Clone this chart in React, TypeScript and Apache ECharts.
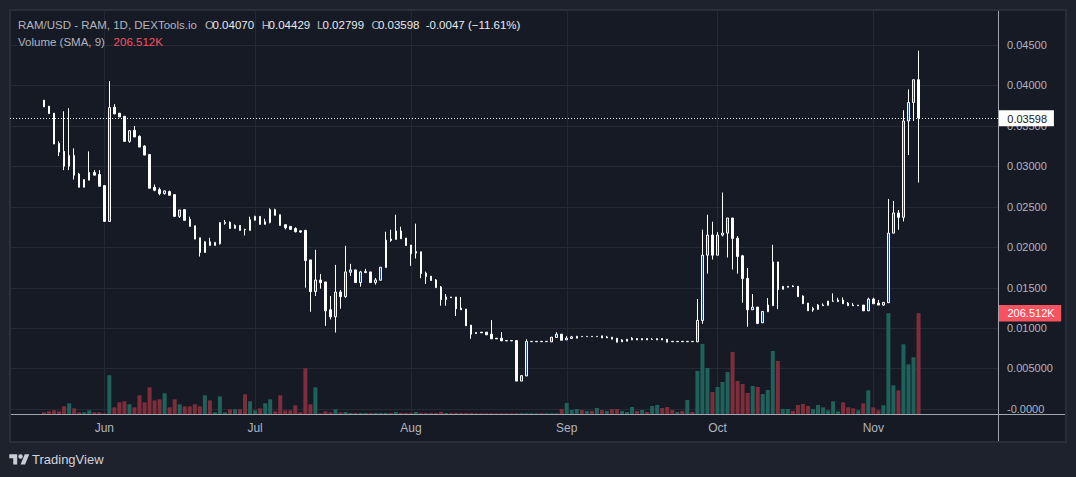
import React, { useEffect, useRef } from "react";
import * as echarts from "echarts";

// ---------- DATA (daily candles, 20 May -> 10 Nov) ----------
const openP = [
  0.03817, 0.03743, 0.03656, 0.03283, 0.03184, 0.03001, 0.03134, 0.02902, 0.02740, 0.02827,
  0.02923, 0.02898, 0.02761, 0.02318, 0.03730, 0.03656, 0.03618, 0.03308, 0.03444, 0.03370,
  0.03250, 0.03146, 0.02740, 0.02711, 0.02662, 0.02687, 0.02649, 0.02380, 0.02463, 0.02343,
  0.02264, 0.02115, 0.01933, 0.02065, 0.02020, 0.02041, 0.02293, 0.02306, 0.02231, 0.02268,
  0.02219, 0.02206, 0.02331, 0.02380, 0.02281, 0.02306, 0.02463, 0.02401, 0.02277, 0.02256,
  0.02231, 0.02202, 0.02206, 0.01842, 0.01449, 0.01593, 0.01569, 0.01225, 0.01138, 0.01445,
  0.01387, 0.01689, 0.01718, 0.01561, 0.01685, 0.01693, 0.01561, 0.01590, 0.01747, 0.02099,
  0.02095, 0.02199, 0.02112, 0.02025, 0.01925, 0.01942, 0.01677, 0.01640, 0.01594, 0.01507,
  0.01350, 0.01383, 0.01383, 0.01246, 0.01234, 0.01035, 0.00944, 0.00948, 0.00948, 0.00923,
  0.00873, 0.00873, 0.00844, 0.00844, 0.00844, 0.00343, 0.00406, 0.00830, 0.00830, 0.00834,
  0.00830, 0.00828, 0.00882, 0.00923, 0.00852, 0.00869, 0.00873, 0.00896, 0.00892, 0.00896,
  0.00892, 0.00902, 0.00877, 0.00886, 0.00873, 0.00828, 0.00836, 0.00852, 0.00869, 0.00852,
  0.00869, 0.00857, 0.00852, 0.00869, 0.00861, 0.00834, 0.00830, 0.00834, 0.00830, 0.00834,
  0.00828, 0.01093, 0.01900, 0.02149, 0.01900, 0.02149, 0.02173, 0.02360, 0.02111, 0.01892,
  0.01614, 0.01225, 0.01258, 0.01064, 0.01200, 0.01275, 0.01817, 0.01478, 0.01503, 0.01519,
  0.01515, 0.01395, 0.01308, 0.01221, 0.01229, 0.01275, 0.01279, 0.01329, 0.01325, 0.01345,
  0.01308, 0.01283, 0.01275, 0.01283, 0.01212, 0.01357, 0.01308, 0.01283, 0.01312, 0.02173,
  0.02422, 0.02368, 0.03560, 0.03788, 0.04070,
];

const closeP = [
  0.03734, 0.03651, 0.03275, 0.03175, 0.03001, 0.03134, 0.02890, 0.02740, 0.02836, 0.02923,
  0.02890, 0.02753, 0.02318, 0.03726, 0.03647, 0.03610, 0.03308, 0.03440, 0.03362, 0.03237,
  0.03138, 0.02728, 0.02703, 0.02662, 0.02695, 0.02641, 0.02380, 0.02459, 0.02331, 0.02256,
  0.02099, 0.01933, 0.02065, 0.02020, 0.02057, 0.02302, 0.02306, 0.02231, 0.02268, 0.02206,
  0.02215, 0.02339, 0.02380, 0.02281, 0.02314, 0.02463, 0.02393, 0.02268, 0.02239, 0.02219,
  0.02190, 0.02186, 0.01834, 0.01449, 0.01593, 0.01560, 0.01212, 0.01138, 0.01444, 0.01387,
  0.01693, 0.01718, 0.01561, 0.01693, 0.01697, 0.01561, 0.01594, 0.01751, 0.02087, 0.02083,
  0.02199, 0.02103, 0.02020, 0.01917, 0.01946, 0.01673, 0.01635, 0.01586, 0.01499, 0.01350,
  0.01383, 0.01374, 0.01238, 0.01225, 0.01027, 0.00923, 0.00931, 0.00940, 0.00915, 0.00865,
  0.00865, 0.00840, 0.00840, 0.00840, 0.00343, 0.00410, 0.00832, 0.00834, 0.00834, 0.00830,
  0.00834, 0.00886, 0.00923, 0.00848, 0.00873, 0.00890, 0.00898, 0.00892, 0.00896, 0.00892,
  0.00896, 0.00877, 0.00888, 0.00861, 0.00824, 0.00852, 0.00861, 0.00873, 0.00852, 0.00869,
  0.00852, 0.00861, 0.00869, 0.00852, 0.00824, 0.00830, 0.00834, 0.00830, 0.00834, 0.00830,
  0.01093, 0.01900, 0.02149, 0.01900, 0.02149, 0.02173, 0.02360, 0.02107, 0.01884, 0.01610,
  0.01225, 0.01258, 0.01055, 0.01204, 0.01283, 0.01817, 0.01474, 0.01515, 0.01515, 0.01511,
  0.01387, 0.01300, 0.01213, 0.01242, 0.01283, 0.01283, 0.01333, 0.01333, 0.01345, 0.01299,
  0.01275, 0.01275, 0.01283, 0.01212, 0.01357, 0.01299, 0.01283, 0.01316, 0.02173, 0.02422,
  0.02368, 0.03560, 0.03788, 0.04070, 0.03598,
];

const highP = [
  0.03817, 0.03743, 0.03656, 0.03308, 0.03680, 0.03718, 0.03221, 0.02919, 0.02836, 0.03184,
  0.02952, 0.02952, 0.02761, 0.04053, 0.03768, 0.03656, 0.03618, 0.03440, 0.03498, 0.03382,
  0.03258, 0.03146, 0.02774, 0.02736, 0.02699, 0.02699, 0.02649, 0.02459, 0.02463, 0.02376,
  0.02264, 0.02115, 0.02074, 0.02115, 0.02065, 0.02310, 0.02335, 0.02318, 0.02281, 0.02268,
  0.02227, 0.02376, 0.02388, 0.02380, 0.02351, 0.02479, 0.02475, 0.02401, 0.02277, 0.02256,
  0.02244, 0.02202, 0.02215, 0.01842, 0.01966, 0.01668, 0.01569, 0.01395, 0.01780, 0.01470,
  0.02016, 0.01793, 0.01718, 0.01706, 0.01731, 0.01693, 0.01619, 0.01751, 0.02190, 0.02215,
  0.02401, 0.02252, 0.02112, 0.02025, 0.02290, 0.01942, 0.01697, 0.01640, 0.01606, 0.01519,
  0.01420, 0.01383, 0.01383, 0.01383, 0.01234, 0.01035, 0.00944, 0.00948, 0.00948, 0.01097,
  0.00873, 0.00948, 0.00844, 0.00844, 0.00844, 0.00410, 0.00861, 0.00834, 0.00834, 0.00834,
  0.00834, 0.00886, 0.00948, 0.00923, 0.00898, 0.00902, 0.00898, 0.00896, 0.00896, 0.00896,
  0.00896, 0.00902, 0.00902, 0.00886, 0.00873, 0.00861, 0.00861, 0.00886, 0.00869, 0.00869,
  0.00869, 0.00873, 0.00869, 0.00869, 0.00861, 0.00834, 0.00834, 0.00834, 0.00834, 0.00834,
  0.01358, 0.02215, 0.02401, 0.02314, 0.02186, 0.02675, 0.02360, 0.02360, 0.02136, 0.01904,
  0.01743, 0.01420, 0.01258, 0.01204, 0.01370, 0.02029, 0.01817, 0.01515, 0.01515, 0.01528,
  0.01515, 0.01403, 0.01308, 0.01262, 0.01295, 0.01304, 0.01333, 0.01428, 0.01374, 0.01378,
  0.01320, 0.01308, 0.01283, 0.01283, 0.01374, 0.01374, 0.01345, 0.01316, 0.02596, 0.02571,
  0.02459, 0.03693, 0.03950, 0.04070, 0.04429,
];

const lowP = [
  0.03734, 0.03651, 0.03275, 0.03126, 0.02952, 0.02952, 0.02836, 0.02740, 0.02740, 0.02827,
  0.02890, 0.02753, 0.02318, 0.02318, 0.03647, 0.03610, 0.03308, 0.03291, 0.03362, 0.03237,
  0.03138, 0.02728, 0.02691, 0.02641, 0.02649, 0.02641, 0.02380, 0.02360, 0.02331, 0.02256,
  0.02099, 0.01883, 0.01933, 0.02020, 0.02020, 0.02032, 0.02277, 0.02231, 0.02231, 0.02206,
  0.02144, 0.02206, 0.02331, 0.02281, 0.02281, 0.02293, 0.02393, 0.02268, 0.02219, 0.02219,
  0.02181, 0.02177, 0.01498, 0.01200, 0.01395, 0.01486, 0.01026, 0.01105, 0.00943, 0.01238,
  0.01374, 0.01644, 0.01561, 0.01511, 0.01677, 0.01561, 0.01536, 0.01590, 0.01747, 0.02066,
  0.02095, 0.02103, 0.02020, 0.01768, 0.01859, 0.01615, 0.01544, 0.01586, 0.01499, 0.01275,
  0.01275, 0.01374, 0.01147, 0.01225, 0.01027, 0.00865, 0.00931, 0.00940, 0.00915, 0.00865,
  0.00865, 0.00840, 0.00840, 0.00840, 0.00343, 0.00343, 0.00406, 0.00830, 0.00830, 0.00830,
  0.00830, 0.00828, 0.00882, 0.00848, 0.00852, 0.00869, 0.00873, 0.00892, 0.00892, 0.00892,
  0.00892, 0.00877, 0.00877, 0.00861, 0.00824, 0.00828, 0.00836, 0.00852, 0.00852, 0.00852,
  0.00852, 0.00857, 0.00852, 0.00852, 0.00824, 0.00830, 0.00830, 0.00830, 0.00830, 0.00830,
  0.00828, 0.01051, 0.01672, 0.01846, 0.01900, 0.02132, 0.01871, 0.01722, 0.01672, 0.01312,
  0.01014, 0.01225, 0.01047, 0.01064, 0.01200, 0.01275, 0.01233, 0.01478, 0.01503, 0.01511,
  0.01387, 0.01300, 0.01213, 0.01200, 0.01229, 0.01275, 0.01279, 0.01329, 0.01325, 0.01299,
  0.01275, 0.01275, 0.01275, 0.01212, 0.01212, 0.01299, 0.01283, 0.01275, 0.01312, 0.02173,
  0.02215, 0.02318, 0.03138, 0.03560, 0.02799,
];

// volume, in thousands
const volumeK = [
  3.4, 5.5, 7.5, 5.5, 15.7, 21.9, 11.6, 3.4, 3.4, 7.5,
  3.4, 3.4, 1.4, 79.3, 13.7, 23.9, 26.0, 19.8, 13.7, 38.3,
  23.9, 54.7, 28.0, 30.1, 42.4, 13.7, 30.1, 19.8, 15.7, 15.7,
  19.8, 15.7, 38.3, 28.0, 3.4, 36.2, 3.4, 9.6, 9.6, 9.6,
  40.3, 26.0, 7.5, 11.6, 21.9, 30.1, 5.5, 38.3, 7.5, 7.5,
  17.8, 3.4, 93.7, 19.8, 54.7, 1.4, 5.5, 3.4, 9.6, 3.4,
  4.1, 2.0, 2.0, 2.0, 2.0, 2.0, 2.0, 2.0, 2.0, 2.0,
  4.1, 2.0, 2.0, 2.0, 4.1, 2.0, 2.0, 2.0, 2.0, 4.1,
  2.0, 2.0, 2.0, 2.0, 2.0, 2.0, 1.6, 1.6, 1.6, 1.6,
  1.6, 1.6, 1.6, 1.6, 1.6, 1.6, 1.6, 1.6, 1.6, 1.6,
  1.6, 1.6, 1.6, 10.3, 22.6, 8.2, 10.3, 8.2, 6.2, 6.2,
  12.3, 8.2, 6.2, 10.3, 10.3, 6.2, 4.1, 14.4, 6.2, 8.2,
  4.1, 16.4, 18.5, 12.3, 14.4, 8.2, 4.1, 6.2, 28.7, 4.1,
  88.2, 143.6, 94.3, 45.1, 55.4, 65.6, 86.1, 127.2, 67.7, 61.5,
  43.1, 57.4, 55.4, 41.0, 49.2, 129.2, 108.7, 10.3, 10.3, 6.2,
  18.5, 20.5, 16.4, 10.3, 18.5, 13.7, 7.5, 26.0, 5.5, 23.9,
  13.7, 11.6, 7.5, 21.9, 48.5, 13.7, 7.5, 17.8, 206.5, 58.8,
  48.5, 142.9, 101.9, 116.2, 206.512,
];

// month starts (day index from 20 May)
const monthTicks = [12, 42, 73, 104, 134, 165];
const monthLabels = ["Jun", "Jul", "Aug", "Sep", "Oct", "Nov"];

const priceTicks = [0, 0.005, 0.01, 0.015, 0.02, 0.025, 0.03, 0.035, 0.04, 0.045];
const priceTickLabels = [
  "-0.0000", "0.005000", "0.01000", "0.01500", "0.02000",
  "0.02500", "0.03000", "0.03500", "0.04000", "0.04500",
];

const SYMBOL_TEXT = "RAM/USD - RAM, 1D, DEXTools.io";
const CHANGE_TEXT = "-0.0047 (\u221211.61%)";
const VOLUME_TITLE = "Volume (SMA, 9)";
const VOLUME_LAST_TEXT = "206.512K";

// ---------- STYLE ----------
const FONT = '"Liberation Sans", Arial, sans-serif';
const OUTER_BG = "#1e222d";
const PANEL_BG = "#161a25";
const BORDER = "#2a2e39";
const GRID_LINE = "#252934";
const AXIS_TEXT = "#b2b5be";
const VALUE_TEXT = "#e8eaef";
const UP_FILL = "#2043b3";
const UP_VOL = "#1e625b";
const DOWN_VOL = "#7e2e3a";
const RED_LABEL = "#f7525f";

const X_MIN = -6.765;
const X_MAX = 189.81;
const Y_MIN = -0.000643;
const Y_MAX = 0.049326;
const VOL_MAX = 827.7;

const TV_LOGO_PATH =
  "M14 22H7V11H0V4h14v18zM28 22h-8l7.5-18h8L28 22zM16 8a4 4 0 1 0 8 0a4 4 0 1 0 -8 0z";
let logoRegistered = false;
function ensureLogo() {
  if (logoRegistered) return;
  echarts.graphic.registerShape("tvLogo", echarts.graphic.extendPath(TV_LOGO_PATH, {}) as any);
  logoRegistered = true;
}

function findLabel(values: number[], labels: string[], v: number): string {
  for (let i = 0; i < values.length; i++) {
    if (Math.abs(values[i] - v) < 1e-7) return labels[i];
  }
  return "";
}

export default function App() {
  const ref = useRef<HTMLDivElement>(null);

  useEffect(() => {
    ensureLogo();
    const chart = echarts.init(ref.current as HTMLDivElement, undefined, { renderer: "svg" });
    const last = openP.length - 1;

    const candleData = openP.map((o, i) => [i, o, closeP[i], lowP[i], highP[i]]);
    const volData = volumeK.map((v, i) => ({
      value: [i, v],
      itemStyle: { color: closeP[i] >= openP[i] ? UP_VOL : DOWN_VOL },
    }));

    const txt = (text: string, x: number, y: number, fill: string, size = 11.5) => ({
      type: "text",
      x,
      y,
      z: 20,
      silent: true,
      style: { text, fill, font: `${size}px ${FONT}`, verticalAlign: "middle", align: "left" },
    });

    const option: any = {
      animation: false,
      backgroundColor: PANEL_BG,
      grid: { left: 10, right: 78, top: 10, bottom: 63, containLabel: false },
      xAxis: {
        type: "value",
        min: X_MIN,
        max: X_MAX,
        axisLine: { show: false },
        axisTick: { show: false },
        splitLine: { show: false },
        axisLabel: {
          customValues: monthTicks,
          formatter: (v: number) => findLabel(monthTicks, monthLabels, v),
          color: AXIS_TEXT,
          fontSize: 12,
          fontFamily: FONT,
          margin: 8,
        },
      },
      yAxis: [
        {
          type: "value",
          position: "right",
          min: Y_MIN,
          max: Y_MAX,
          axisLine: { show: false },
          axisTick: { show: false },
          splitLine: { show: false },
          axisLabel: {
            customValues: priceTicks,
            formatter: (v: number) => findLabel(priceTicks, priceTickLabels, v),
            color: AXIS_TEXT,
            fontSize: 11,
            fontFamily: FONT,
            margin: 9,
          },
        },
        { type: "value", min: 0, max: VOL_MAX, show: false },
      ],
      graphic: [
        // outer frame (outside of the chart panel)
        { type: "rect", z: 1, silent: true, shape: { x: 0, y: 0, width: 1076, height: 9 }, style: { fill: OUTER_BG } },
        { type: "rect", z: 1, silent: true, shape: { x: 0, y: 443, width: 1076, height: 34 }, style: { fill: OUTER_BG } },
        { type: "rect", z: 1, silent: true, shape: { x: 0, y: 0, width: 9, height: 477 }, style: { fill: OUTER_BG } },
        { type: "rect", z: 1, silent: true, shape: { x: 1067, y: 0, width: 9, height: 477 }, style: { fill: OUTER_BG } },
        {
          type: "rect", z: 1, silent: true,
          shape: { x: 10, y: 10, width: 1056, height: 432 },
          style: { fill: "none", stroke: BORDER, lineWidth: 2 },
        },
        // pane separators
        {
          type: "line", z: 15, silent: true,
          shape: { x1: 998.5, y1: 11, x2: 998.5, y2: 441 },
          style: { stroke: "#a3a6af", lineWidth: 1 },
        },
        {
          type: "line", z: 15, silent: true,
          shape: { x1: 11, y1: 414.5, x2: 1065, y2: 414.5 },
          style: { stroke: "#a3a6af", lineWidth: 1 },
        },
        // legend
        txt(SYMBOL_TEXT, 18, 25, AXIS_TEXT),
        txt("O", 205, 25, AXIS_TEXT),
        txt(openP[last].toFixed(5), 212.5, 25, VALUE_TEXT),
        txt("H", 261.8, 25, AXIS_TEXT),
        txt(highP[last].toFixed(5), 268.6, 25, VALUE_TEXT),
        txt("L", 317, 25, AXIS_TEXT),
        txt(lowP[last].toFixed(5), 322.5, 25, VALUE_TEXT),
        txt("C", 371.4, 25, AXIS_TEXT),
        txt(closeP[last].toFixed(5), 377.9, 25, VALUE_TEXT),
        txt(CHANGE_TEXT, 425.7, 25, VALUE_TEXT),
        txt(VOLUME_TITLE, 18, 42, AXIS_TEXT),
        txt(VOLUME_LAST_TEXT, 113.6, 42, RED_LABEL),
        // TradingView watermark
        {
          type: "tvLogo", z: 20, silent: true,
          x: 9.3, y: 452.0, scaleX: 0.563, scaleY: 0.563,
          style: { fill: "#c9ccd3" },
        },
        txt("TradingView", 32, 459.5, "#d1d4dc", 13),
      ],
      series: [
        // horizontal price grid lines
        {
          type: "custom",
          xAxisIndex: 0,
          yAxisIndex: 0,
          z: 1,
          silent: true,
          data: priceTicks.map((v) => [0, v]),
          renderItem: (params: any, api: any) => {
            const cs = params.coordSys;
            const y = Math.round(api.coord([0, api.value(1)])[1]) + 0.5;
            return {
              type: "line",
              shape: { x1: cs.x, y1: y, x2: cs.x + cs.width, y2: y },
              style: { stroke: GRID_LINE, lineWidth: 1 },
            };
          },
        },
        // vertical month grid lines
        {
          type: "custom",
          xAxisIndex: 0,
          yAxisIndex: 0,
          z: 1,
          silent: true,
          data: monthTicks.map((d) => [d, 0]),
          renderItem: (params: any, api: any) => {
            const cs = params.coordSys;
            const x = Math.round(api.coord([api.value(0), 0])[0]) + 0.5;
            return {
              type: "line",
              shape: { x1: x, y1: cs.y, x2: x, y2: cs.y + cs.height },
              style: { stroke: GRID_LINE, lineWidth: 1 },
            };
          },
        },
        // volume
        {
          type: "bar",
          name: "Volume",
          xAxisIndex: 0,
          yAxisIndex: 1,
          z: 2,
          barWidth: 4,
          data: volData,
        },
        // candles
        {
          type: "candlestick",
          name: "RAM/USD",
          xAxisIndex: 0,
          yAxisIndex: 0,
          z: 3,
          barWidth: 2,
          encode: { x: 0, y: [1, 2, 3, 4] },
          data: candleData,
          itemStyle: {
            color: UP_FILL,
            color0: "#ffffff",
            borderColor: "#ffffff",
            borderColor0: "#ffffff",
            borderWidth: 1,
          },
        },
        // last price line + label
        {
          type: "custom",
          xAxisIndex: 0,
          yAxisIndex: 0,
          z: 10,
          silent: true,
          data: [[last, closeP[last]]],
          renderItem: (params: any, api: any) => {
            const cs = params.coordSys;
            const yRaw = api.coord([api.value(0), api.value(1)])[1];
            const y = Math.round(yRaw) + 0.5;
            const right = cs.x + cs.width;
            return {
              type: "group",
              children: [
                {
                  type: "line",
                  shape: { x1: cs.x, y1: y, x2: right, y2: y },
                  style: { stroke: "#ffffff", lineWidth: 1, lineDash: [1, 2] },
                },
                {
                  type: "rect",
                  shape: { x: right + 0.5, y: y - 8.3, width: 55.4, height: 16 },
                  style: { fill: "#ffffff" },
                },
                {
                  type: "text",
                  x: right + 9.3,
                  y: y,
                  style: {
                    text: closeP[last].toFixed(5),
                    fill: "#131722",
                    font: `11px ${FONT}`,
                    verticalAlign: "middle",
                    align: "left",
                  },
                },
              ],
            };
          },
        },
        // last volume label
        {
          type: "custom",
          xAxisIndex: 0,
          yAxisIndex: 1,
          z: 10,
          silent: true,
          data: [[last, volumeK[last]]],
          renderItem: (params: any, api: any) => {
            const cs = params.coordSys;
            const y = api.coord([api.value(0), api.value(1)])[1];
            const right = cs.x + cs.width;
            return {
              type: "group",
              children: [
                {
                  type: "rect",
                  shape: { x: right + 0.5, y: y - 8.3, width: 62.7, height: 16.7 },
                  style: { fill: RED_LABEL },
                },
                {
                  type: "text",
                  x: right + 9.5,
                  y: y + 0.2,
                  style: {
                    text: VOLUME_LAST_TEXT,
                    fill: "#ffffff",
                    font: `11px ${FONT}`,
                    verticalAlign: "middle",
                    align: "left",
                  },
                },
              ],
            };
          },
        },
      ],
    };

    chart.setOption(option);
    return () => {
      chart.dispose();
    };
  }, []);

  return (
    <div
      ref={ref}
      style={{ position: "fixed", left: 0, top: 0, width: 1076, height: 477 }}
    />
  );
}
